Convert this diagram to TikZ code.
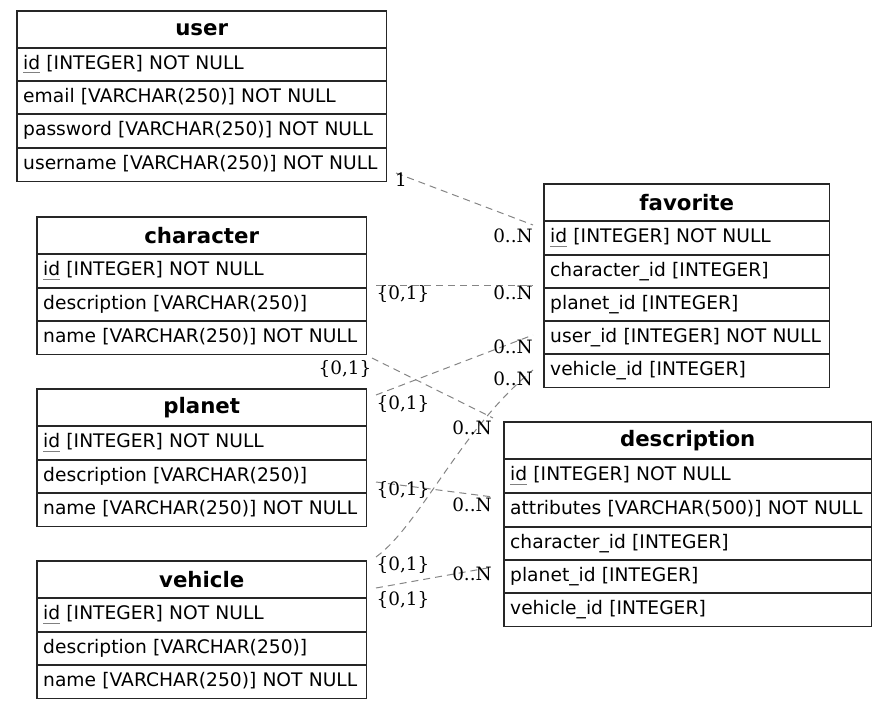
\documentclass[tikz,border=0pt]{standalone}
\usepackage{fontspec}
\setmainfont{DejaVu Sans}
\newfontfamily\lblfont{DejaVu Serif}
\usetikzlibrary{calc}

% primary key column names are underlined with a thin grey rule
\newcommand\keyname[1]{\leavevmode\setbox0\hbox{#1}\rlap{\textcolor{gray}{\rule[-3.6pt]{\wd0}{0.9pt}}}\box0\relax}

\tikzset{
  hdr/.style={anchor=north west, inner sep=0pt,
    minimum height=37pt, font=\fontsize{21.3}{24}\selectfont\bfseries},
  cell/.style={anchor=north west, inner xsep=6pt,
    inner ysep=0pt, minimum height=33pt, align=left, text width=#1,
    text height=13.6pt, text depth=4.4pt,
    font=\fontsize{18.67}{22}\selectfont},
  tall/.style={minimum height=34pt},
  frame/.style={draw=black!85, line width=1.2pt},
  rel/.style={draw=black!48, line width=1pt, dash pattern=on 7pt off 5pt},
  card/.style={font=\lblfont\fontsize{18.4}{22}\selectfont, inner sep=0pt}
}

\begin{document}
\begin{tikzpicture}[x=1pt,y=-1pt]
\useasboundingbox (0,0) rectangle (887,709);

% ---- user ----
\node[hdr, minimum width=369pt] (user) at (17,11) {user};
\node[cell=357pt] (user-id) at (17,48) {\keyname{id} [INTEGER] NOT NULL};
\node[cell=357pt] (user-email) at (17,81) {email [VARCHAR(250)] NOT NULL};
\node[cell=357pt, tall] (user-password) at (17,114) {password [VARCHAR(250)] NOT NULL};
\node[cell=357pt] (user-username) at (17,148) {username [VARCHAR(250)] NOT NULL};
\draw[frame] (user.north west) rectangle (user-username.south east);
\foreach \r in {user-id,user-email,user-password,user-username}
  \draw[frame] (\r.north west) -- (\r.north east);

% ---- favorite ----
\node[hdr, minimum width=285pt] (favorite) at (544,184) {favorite};
\node[cell=273pt, tall] (fav-id) at (544,221) {\keyname{id} [INTEGER] NOT NULL};
\node[cell=273pt] (fav-character) at (544,255) {character\_id [INTEGER]};
\node[cell=273pt] (fav-planet) at (544,288) {planet\_id [INTEGER]};
\node[cell=273pt] (fav-user) at (544,321) {user\_id [INTEGER] NOT NULL};
\node[cell=273pt] (fav-vehicle) at (544,354) {vehicle\_id [INTEGER]};
\draw[frame] (favorite.north west) rectangle (fav-vehicle.south east);
\foreach \r in {fav-id,fav-character,fav-planet,fav-user,fav-vehicle}
  \draw[frame] (\r.north west) -- (\r.north east);

% ---- character ----
\node[hdr, minimum width=329pt] (character) at (37,217) {character};
\node[cell=317pt, tall] (char-id) at (37,254) {\keyname{id} [INTEGER] NOT NULL};
\node[cell=317pt] (char-description) at (37,288) {description [VARCHAR(250)]};
\node[cell=317pt] (char-name) at (37,321) {name [VARCHAR(250)] NOT NULL};
\draw[frame] (character.north west) rectangle (char-name.south east);
\foreach \r in {char-id,char-description,char-name}
  \draw[frame] (\r.north west) -- (\r.north east);

% ---- planet ----
\node[hdr, minimum width=329pt] (planet) at (37,389) {planet};
\node[cell=317pt, tall] (planet-id) at (37,426) {\keyname{id} [INTEGER] NOT NULL};
\node[cell=317pt] (planet-description) at (37,460) {description [VARCHAR(250)]};
\node[cell=317pt] (planet-name) at (37,493) {name [VARCHAR(250)] NOT NULL};
\draw[frame] (planet.north west) rectangle (planet-name.south east);
\foreach \r in {planet-id,planet-description,planet-name}
  \draw[frame] (\r.north west) -- (\r.north east);

% ---- description ----
\node[hdr, minimum width=367pt] (description) at (504,422) {description};
\node[cell=355pt, tall] (desc-id) at (504,459) {\keyname{id} [INTEGER] NOT NULL};
\node[cell=355pt, tall] (desc-attributes) at (504,493) {attributes [VARCHAR(500)] NOT NULL};
\node[cell=355pt] (desc-character) at (504,527) {character\_id [INTEGER]};
\node[cell=355pt] (desc-planet) at (504,560) {planet\_id [INTEGER]};
\node[cell=355pt] (desc-vehicle) at (504,593) {vehicle\_id [INTEGER]};
\draw[frame] (description.north west) rectangle (desc-vehicle.south east);
\foreach \r in {desc-id,desc-attributes,desc-character,desc-planet,desc-vehicle}
  \draw[frame] (\r.north west) -- (\r.north east);

% ---- vehicle ----
\node[hdr, minimum width=329pt] (vehicle) at (37,561) {vehicle};
\node[cell=317pt, tall] (veh-id) at (37,598) {\keyname{id} [INTEGER] NOT NULL};
\node[cell=317pt] (veh-description) at (37,632) {description [VARCHAR(250)]};
\node[cell=317pt] (veh-name) at (37,665) {name [VARCHAR(250)] NOT NULL};
\draw[frame] (vehicle.north west) rectangle (veh-name.south east);
\foreach \r in {veh-id,veh-description,veh-name}
  \draw[frame] (\r.north west) -- (\r.north east);

% ---- relationship end points ----
\coordinate (u-fav) at (396,173);
\coordinate (fav-u) at (533,225);
\coordinate (c-fav) at (376,285);
\coordinate (fav-c) at (533,285);
\coordinate (p-fav) at (376,395);
\coordinate (fav-p) at (533,335);
\coordinate (v-fav) at (376,557);
\coordinate (fav-v) at (533,370);
\coordinate (c-desc) at (372,358);
\coordinate (desc-c) at (493,418);
\coordinate (p-desc) at (376,482);
\coordinate (desc-p) at (493,497);
\coordinate (v-desc) at (376,588);
\coordinate (desc-v) at (493,567);

% ---- relationships ----
\draw[rel] (u-fav) -- (fav-u);
\draw[rel] (c-fav) -- (fav-c);
\draw[rel] (p-fav) -- (fav-p);
\draw[rel] (v-fav) .. controls (420,525) and (460,430) .. (fav-v);
\draw[rel] (c-desc) -- (desc-c);
\draw[rel] (p-desc) -- (desc-p);
\draw[rel] (v-desc) -- (desc-v);

% ---- cardinalities ----
\node[card] (l-u1) at (401,180) {1};
\node[card] (l-fu) at (513,236) {0..N};
\node[card] (l-c1) at (403,294) {\{0,1\}};
\node[card] (l-fc) at (513,293) {0..N};
\node[card] (l-p1) at (403,404) {\{0,1\}};
\node[card] (l-fp) at (513,347) {0..N};
\node[card] (l-fv) at (513,379) {0..N};
\node[card] (l-c2) at (345,369) {\{0,1\}};
\node[card] (l-dc) at (472,428) {0..N};
\node[card] (l-p2) at (403,490) {\{0,1\}};
\node[card] (l-dp) at (472,505) {0..N};
\node[card] (l-v1) at (403,565) {\{0,1\}};
\node[card] (l-dv) at (472,574) {0..N};
\node[card] (l-v2) at (403,600) {\{0,1\}};
\end{tikzpicture}
\end{document}
